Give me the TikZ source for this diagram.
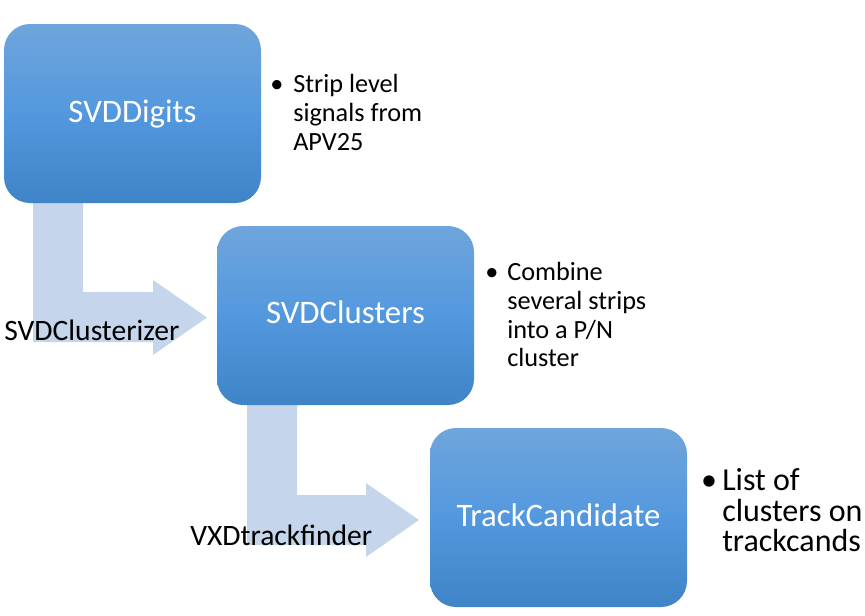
\documentclass[tikz,border=0pt]{standalone}
\usepackage{fontspec}
\setmainfont{Carlito}
\definecolor{boxtop}{RGB}{111,165,220}
\definecolor{boxmid}{RGB}{83,152,222}
\definecolor{boxbot}{RGB}{63,132,199}
\definecolor{arrowfill}{RGB}{197,214,236}
\tikzset{
  stagebox/.style={rectangle, rounded corners=19.5pt, minimum width=192.75pt, minimum height=134.25pt,
    inner sep=0pt, top color=boxtop, bottom color=boxbot, middle color=boxmid, draw=none},
  boxlabel/.style={text=white, font=\fontsize{24.6}{29}\selectfont, anchor=base, inner sep=0pt},
  arrowlabel/.style={text=black, font=\fontsize{22.2}{26}\selectfont, anchor=base west, inner sep=0pt},
  bultext/.style={text=black, font=\fontsize{19.7}{24}\selectfont, anchor=base west, inner sep=0pt},
  bulmark/.style={text=black, font=\fontsize{19.7}{24}\selectfont, anchor=base, inner sep=0pt},
  bigtext/.style={text=black, font=\fontsize{24}{28}\selectfont, anchor=base west, inner sep=0pt},
  bigmark/.style={text=black, font=\fontsize{24}{28}\selectfont, anchor=base, inner sep=0pt},
  blockarrow/.style={fill=arrowfill, draw=none}
}
\begin{document}
\begin{tikzpicture}[x=0.75pt, y=-0.75pt]
\useasboundingbox (0,0) rectangle (865,615);
% bent block arrows
\fill[blockarrow] (33,200) -- (83,200) -- (83,292) -- (153,292) -- (153,280) -- (207,317.5)
  -- (153,355) -- (153,342) -- (33,342) -- cycle;
\fill[blockarrow] (247,402) -- (297,402) -- (297,495) -- (366,495) -- (366,483) -- (419,520)
  -- (366,557) -- (366,545) -- (247,545) -- cycle;
% boxes
\node[stagebox] (digits) at (132.5,113.5) {};
\node[stagebox] (clusters) at (345.5,315.5) {};
\node[stagebox] (cand) at (558.5,517.5) {};
\node[boxlabel] (digitslabel) at (132.5,122) {SVDDigits};
\node[boxlabel] (clusterslabel) at (345.5,323) {SVDClusters};
\node[boxlabel] (candlabel) at (558.5,526) {TrackCandidate};
% arrow labels
\node[arrowlabel] (clusterizer) at (4,340) {SVDClusterizer};
\node[arrowlabel] (trackfinder) at (190,545) {VXDtrackfinder};
% bullets 1
\node[bulmark] (b1) at (277,92) {•};
\node[bultext] (b1a) at (293,92) {Strip level};
\node[bultext] (b1b) at (293,121) {signals from};
\node[bultext] (b1c) at (293,150) {APV25};
% bullets 2
\node[bulmark] (b2) at (492,280) {•};
\node[bultext] (b2a) at (507,280) {Combine};
\node[bultext] (b2b) at (507,309) {several strips};
\node[bultext] (b2c) at (507,338) {into a P/N};
\node[bultext] (b2d) at (507,366) {cluster};
% bullets 3
\node[bigmark] (b3) at (709,490) {•};
\node[bigtext] (b3a) at (722,490) {List of};
\node[bigtext] (b3b) at (722,521) {clusters on};
\node[bigtext] (b3c) at (722,551) {trackcands};
\end{tikzpicture}
\end{document}
